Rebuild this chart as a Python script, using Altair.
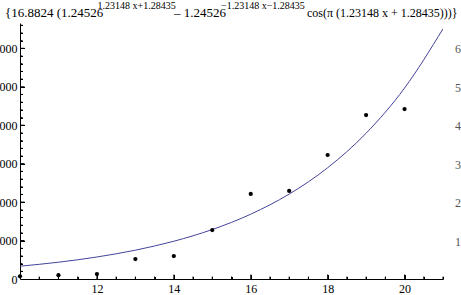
import altair as alt
import pandas as pd

# ---- data ----
x_data = [10, 11, 12, 13, 14, 15, 16, 17, 18, 19, 20]
y_data = [70, 100, 130, 520, 598, 1274, 2211, 2289, 3225, 4265, 4421]

curve_x = [10, 11, 12, 13, 14, 15, 16, 17, 18, 19, 20, 21]
curve_y = [333.1, 436.7, 572.2, 749.6, 982.1, 1286.6, 1685.6, 2208.4, 2893.3, 3790.6, 4966.2, 6506.3]

x_tick_labels = [12, 14, 16, 18, 20]
x_minor_ticks = [10.5, 11, 11.5, 12.5, 13, 13.5, 14.5, 15, 15.5, 16.5, 17, 17.5,
                 18.5, 19, 19.5, 20.5, 21]
y_tick_labels = [0, 1000, 2000, 3000, 4000, 5000, 6000]
y_minor_ticks = [200, 400, 600, 800, 1200, 1400, 1600, 1800, 2200, 2400, 2600, 2800,
                 3200, 3400, 3600, 3800, 4200, 4400, 4600, 4800, 5200, 5400, 5600, 5800,
                 6200, 6400, 6600]
side_labels = [1000, 2000, 3000, 4000, 5000, 6000]

title_parts = [
    "{16.8824 (1.24526",
    "1.23148 x+1.28435",
    "\u2013 1.24526",
    "\u22121.23148 x\u22121.28435",
    "cos(\u03c0 (1.23148 x + 1.28435)))}",
]

# ---- layout ----
W, H = 461, 295
LEFT, TOP, RIGHT, BOTTOM = 20, 23, 18, 16
PW, PH = W - LEFT - RIGHT, H - TOP - BOTTOM
SERIF = "'Liberation Serif', 'Times New Roman', Times, serif"

xs = alt.Scale(domain=[10, 21], nice=False, zero=False)
ys = alt.Scale(domain=[0, 6658], nice=False, zero=False)

points_df = pd.DataFrame({"x": x_data, "y": y_data})
curve_df = pd.DataFrame({"x": curve_x, "y": curve_y})

# main axes: domain line + labels
curve = alt.Chart(curve_df).mark_line(
    color="#44449a", strokeWidth=1, interpolate="monotone", clip=True
).encode(
    x=alt.X("x:Q", scale=xs, title=None, axis=alt.Axis(
        orient="bottom", values=x_tick_labels, ticks=False, grid=False,
        domainColor="black", domainWidth=1, labelFont=SERIF, labelFontSize=12,
        labelColor="black", labelPadding=4, labelFlush=False)),
    y=alt.Y("y:Q", scale=ys, title=None, axis=alt.Axis(
        orient="left", values=y_tick_labels, ticks=False, grid=False,
        domainColor="black", domainWidth=1, labelFont=SERIF, labelFontSize=12,
        labelColor="black", labelPadding=3, format="d", labelFlush=False)),
)


def tick_axis(values, size, orient):
    # inward-pointing ticks: axis shifted into the plot, ticks pointing back to the edge
    return alt.Axis(orient=orient, values=values, domain=False, labels=False, grid=False,
                    ticks=True, tickSize=size, offset=-size, tickColor="black",
                    tickWidth=1, title=None)


pts = alt.Chart(points_df).mark_circle(color="black", opacity=1, size=18).encode(
    x=alt.X("x:Q", scale=xs, title=None, axis=tick_axis(x_tick_labels, 4.5, "bottom")),
    y=alt.Y("y:Q", scale=ys, title=None, axis=tick_axis(y_tick_labels[1:], 4.5, "left")),
)

minor = alt.Chart(points_df).mark_point(opacity=0).encode(
    x=alt.X("x:Q", scale=xs, title=None, axis=tick_axis(x_minor_ticks, 2.5, "bottom")),
    y=alt.Y("y:Q", scale=ys, title=None, axis=tick_axis(y_minor_ticks, 2.5, "left")),
)

# inward tick marks drawn as rules as well
xmaj = alt.Chart(pd.DataFrame({"x": x_tick_labels})).mark_rule(color="black", strokeWidth=1).encode(
    x=alt.X("x:Q", scale=xs, axis=None), y=alt.value(PH), y2=alt.value(PH - 4.5))
xmin = alt.Chart(pd.DataFrame({"x": x_minor_ticks})).mark_rule(color="black", strokeWidth=1).encode(
    x=alt.X("x:Q", scale=xs, axis=None), y=alt.value(PH), y2=alt.value(PH - 2.5))
ymaj = alt.Chart(pd.DataFrame({"y": y_tick_labels[1:]})).mark_rule(color="black", strokeWidth=1).encode(
    y=alt.Y("y:Q", scale=ys, axis=None), x=alt.value(0), x2=alt.value(4.5))
ymin = alt.Chart(pd.DataFrame({"y": y_minor_ticks})).mark_rule(color="black", strokeWidth=1).encode(
    y=alt.Y("y:Q", scale=ys, axis=None), x=alt.value(0), x2=alt.value(2.5))

side = alt.Chart(pd.DataFrame({"ty": side_labels})).mark_text(
    align="left", baseline="middle", font=SERIF, fontSize=12, color="#555555", dy=1
).encode(y=alt.Y("ty:Q", scale=ys, axis=None), x=alt.value(455 - LEFT),
         text=alt.Text("ty:Q", format="d"))


def piece(txt, px, py, size):
    return alt.Chart(alt.Data(values=[{"t": txt}])).mark_text(
        align="left", baseline="alphabetic", font=SERIF, fontSize=size, color="black"
    ).encode(text="t:N", x=alt.value(px - LEFT), y=alt.value(py - TOP))


title_layers = [
    piece(title_parts[0], 5, 17, 13),
    piece(title_parts[1], 97.5, 8.5, 10),
    piece(title_parts[2], 174, 17, 13),
    piece(title_parts[3], 221, 8.5, 10),
    piece(title_parts[4], 307, 17, 12),
]

chart = alt.layer(curve, minor, pts, xmaj, xmin, ymaj, ymin, side, *title_layers).resolve_axis(
    x="independent", y="independent"
).properties(
    width=PW, height=PH,
    padding={"left": LEFT, "top": TOP, "right": RIGHT, "bottom": BOTTOM},
    autosize=alt.AutoSizeParams(type="none"),
    background="white",
).configure_view(stroke=None)

chart.save("out.html", embed_options={"renderer": "svg", "actions": False})
